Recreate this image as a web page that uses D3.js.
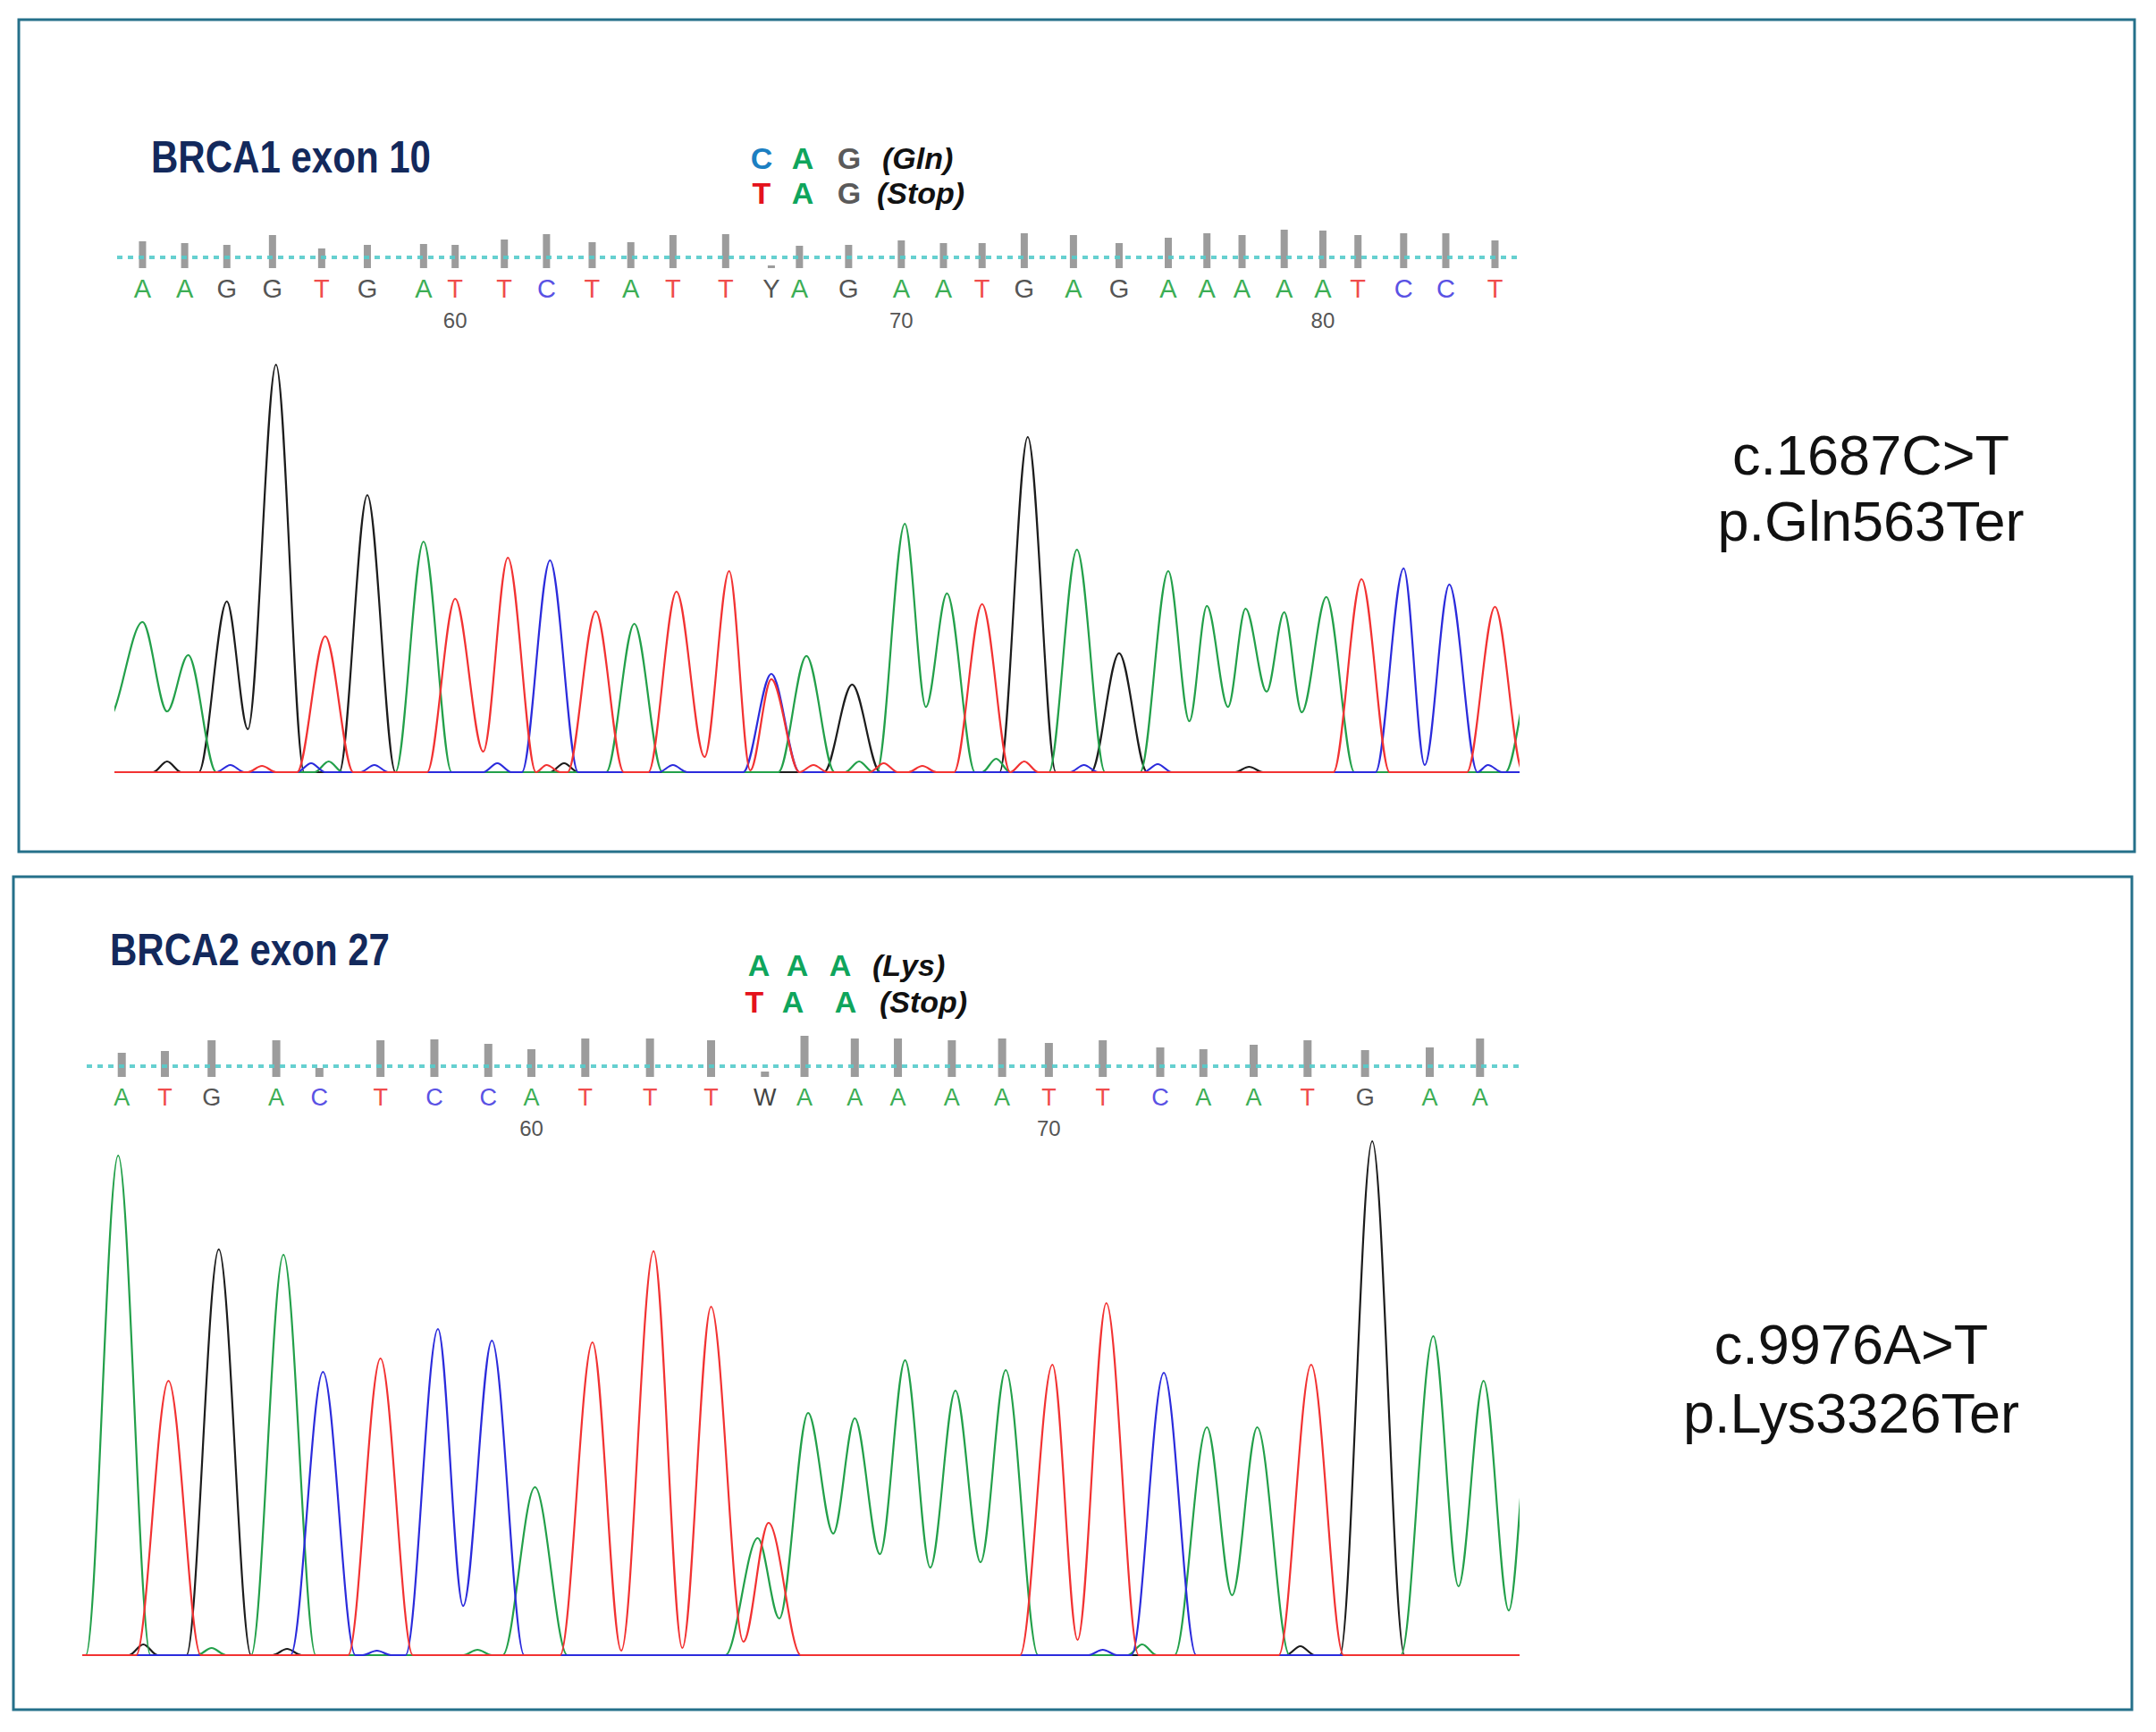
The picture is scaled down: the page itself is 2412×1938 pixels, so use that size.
<!DOCTYPE html>
<html>
<head>
<meta charset="utf-8">
<script src="https://cdn.jsdelivr.net/npm/d3@7/dist/d3.min.js"></script>
<style>
  body { margin: 0; background: #fff; }
  svg { display: block; }
  text { font-family: "Liberation Sans", Arial, sans-serif; }
</style>
</head>
<body>
<svg id="chart" width="2412" height="1938"></svg>
<script>
/***************************************************************
    Data  (scan = sample index along the run, signal = peak height)
****************************************************************/
// BRCA1 exon 10
const brca1Seq = "AAGGTGATTCTATTYAGAATGAGAAAAATCCT".split("");
const brca1Calls = [8, 20, 32, 45, 59, 72, 88, 97, 111, 123, 136, 147, 159, 174, 187, 195, 209, 224, 236, 247,
                    259, 273, 286, 300, 311, 321, 333, 344, 354, 367, 379, 393];
const brca1Quality = [30, 28, 26, 37, 22, 26, 27, 26, 32, 38, 29, 29, 37, 38, 3, 25, 26, 31, 28, 28,
                      39, 37, 28, 34, 39, 37, 43, 42, 37, 39, 39, 31];
const brca1FirstBase = 53;
const brca1Ticks = [60, 70, 80];
// [channel, scan, signal]
const brca1Peaks = [
    ["A", 8, 168], ["A", 21, 131], ["G", 32, 191], ["G", 46, 456], ["T", 60, 152], ["G", 72, 310],
    ["A", 88, 258], ["T", 97, 194], ["T", 112, 240], ["C", 124, 237], ["T", 137, 180], ["A", 148, 166],
    ["T", 160, 202], ["T", 175, 225], ["C", 187, 110], ["T", 187, 104], ["A", 197, 130], ["G", 210, 98],
    ["A", 225, 278], ["A", 237, 200], ["T", 247, 188], ["G", 260, 375], ["A", 274, 249], ["G", 286, 133],
    ["A", 300, 225], ["A", 311, 186], ["A", 322, 183], ["A", 333, 179], ["A", 345, 196], ["T", 355, 216],
    ["C", 367, 228], ["C", 380, 210], ["T", 393, 185], ["A", 404, 120]
];
const brca1Valleys = [
    ["A", 0, 70], ["A", 15, 68], ["A", 231, 73], ["A", 306, 57], ["A", 317, 73], ["A", 328, 90], ["A", 338, 67],
    ["G", 38, 48], ["T", 105, 23], ["T", 168, 17], ["T", 181, 2], ["C", 373, 8]
];
const brca1Noise = [
    ["G", 15, 12], ["C", 33, 8], ["T", 42, 7], ["C", 56, 10], ["A", 61, 12], ["C", 74, 8], ["C", 109, 10],
    ["T", 123, 8], ["G", 128, 10], ["C", 159, 8], ["T", 199, 8], ["A", 212, 12], ["T", 219, 10], ["T", 230, 7],
    ["A", 251, 15], ["T", 259, 12], ["C", 276, 8], ["C", 297, 9], ["G", 323, 6], ["C", 391, 8]
];
const brca1CodonRef = ["C", "A", "G"];
const brca1CodonAlt = ["T", "A", "G"];
const brca1Amino = ["(Gln)", "(Stop)"];
const brca1Variant = ["c.1687C>T", "p.Gln563Ter"];

// BRCA2 exon 27
const brca2Seq = "ATGACTCCATTTWAAAAATTCAATGAA".split("");
const brca2Calls = [11, 23, 36, 54, 66, 83, 98, 113, 125, 140, 158, 175, 190, 201, 215, 227, 242, 256, 269, 284,
                    300, 312, 326, 341, 357, 375, 389];
const brca2Quality = [27, 29, 41, 41, 10, 41, 42, 37, 31, 43, 43, 41, 6, 46, 43, 43, 41, 43, 38, 41,
                      33, 31, 36, 41, 30, 33, 43];
const brca2FirstBase = 52;
const brca2Ticks = [60, 70];
const brca2Peaks = [
    ["A", 10, 559], ["T", 24, 307], ["G", 38, 454], ["A", 56, 448], ["C", 67, 317], ["T", 83, 332],
    ["C", 99, 365], ["C", 114, 352], ["A", 126, 188], ["T", 142, 350], ["T", 159, 452], ["T", 175, 390],
    ["A", 188, 131], ["T", 191, 148], ["A", 202, 271], ["A", 215, 265], ["A", 229, 330], ["A", 243, 296],
    ["A", 257, 319], ["T", 270, 325], ["T", 285, 394], ["C", 301, 316], ["A", 313, 255], ["A", 327, 255],
    ["T", 342, 325], ["G", 359, 575], ["A", 376, 357], ["A", 390, 307], ["A", 404, 330]
];
const brca2Valleys = [
    ["C", 106, 55], ["T", 150, 5], ["T", 167, 8], ["T", 184, 15], ["T", 277, 17],
    ["A", 194, 41], ["A", 209, 136], ["A", 222, 113], ["A", 236, 98], ["A", 250, 104], ["A", 320, 67],
    ["A", 383, 77], ["A", 397, 50]
];
const brca2Noise = [
    ["G", 17, 12], ["A", 36, 8], ["G", 57, 7], ["C", 82, 5], ["A", 110, 6], ["C", 284, 6], ["A", 295, 12], ["G", 339, 10]
];
const brca2CodonRef = ["A", "A", "A"];
const brca2CodonAlt = ["T", "A", "A"];
const brca2Amino = ["(Lys)", "(Stop)"];
const brca2Variant = ["c.9976A>T", "p.Lys3326Ter"];

/***************************************************************
    Styles
****************************************************************/
const traceColor = { A: "#23a04a", C: "#2b2bdc", G: "#1c1c1c", T: "#f23232" };
const callColor = { A: "#3cae55", C: "#5a52e4", G: "#555555", T: "#f04c4c", Y: "#555555", W: "#444444" };
const codonColor = { A: "#0fa55c", C: "#1c7fc2", G: "#5a5a5a", T: "#e4121c" };
const drawOrder = ["G", "A", "C", "T"];

const panels = [
    {
        title: "BRCA1 exon 10", seq: brca1Seq, calls: brca1Calls, quality: brca1Quality,
        firstBase: brca1FirstBase, ticks: brca1Ticks, peaks: brca1Peaks, valleys: brca1Valleys, noise: brca1Noise,
        codons: [brca1CodonRef, brca1CodonAlt], amino: brca1Amino, variant: brca1Variant,
        box: [21, 22, 2367, 931], titlePos: [169, 193],
        codonX: [[852, 898, 950], [852, 898, 950]], aminoX: [987, 981], codonY: [189, 228],
        xRange: [128, 1700], lineX: [131, 1700], yRange: [864, 404], yMax: 460,
        lineY: 288, letterY: 333, tickY: 367, letterSize: 29, barW: 8, peakW: 8,
        variantX: 2093, variantY: [531, 605]
    },
    {
        title: "BRCA2 exon 27", seq: brca2Seq, calls: brca2Calls, quality: brca2Quality,
        firstBase: brca2FirstBase, ticks: brca2Ticks, peaks: brca2Peaks, valleys: brca2Valleys, noise: brca2Noise,
        codons: [brca2CodonRef, brca2CodonAlt], amino: brca2Amino, variant: brca2Variant,
        box: [15, 981, 2370, 932], titlePos: [123, 1080],
        codonX: [[849, 892, 940], [844, 887, 946]], aminoX: [976, 984], codonY: [1092, 1133],
        xRange: [92, 1700], lineX: [97, 1700], yRange: [1852, 1272], yMax: 580,
        lineY: 1193, letterY: 1237, tickY: 1271, letterSize: 27, barW: 9, peakW: 9,
        variantX: 2071, variantY: [1526, 1603]
    }
];

/***************************************************************
    Drawing
****************************************************************/
const svg = d3.select("#chart");
panels.forEach((p, i) => drawPanel(p, i));

function drawPanel(p, idx) {
    const g = svg.append("g");
    const x = d3.scaleLinear().domain([0, 400]).range(p.xRange);
    const y = d3.scaleLinear().domain([0, p.yMax]).range(p.yRange);
    const q = d3.scaleLinear().domain([0, 50]).range([0, 50]);

    // frame
    g.append("rect")
        .attr("x", p.box[0]).attr("y", p.box[1]).attr("width", p.box[2]).attr("height", p.box[3])
        .attr("fill", "none").attr("stroke", "#25708a").attr("stroke-width", 3);

    // title
    g.append("text")
        .attr("x", p.titlePos[0]).attr("y", p.titlePos[1])
        .attr("font-size", 50).attr("font-weight", "bold").attr("fill", "#13295c")
        .attr("textLength", 313).attr("lengthAdjust", "spacingAndGlyphs")
        .text(p.title);

    // codon change
    p.codons.forEach((codon, r) => {
        g.selectAll(null).data(codon).enter().append("text")
            .attr("x", (d, k) => p.codonX[r][k]).attr("y", p.codonY[r])
            .attr("text-anchor", "middle").attr("font-size", 34).attr("font-weight", "bold")
            .attr("fill", d => codonColor[d])
            .text(d => d);
        g.append("text")
            .attr("x", p.aminoX[r]).attr("y", p.codonY[r])
            .attr("font-size", 34).attr("font-weight", "bold").attr("font-style", "italic")
            .attr("fill", "#111")
            .text(p.amino[r]);
    });

    // quality bars
    g.selectAll(null).data(p.calls).enter().append("rect")
        .attr("x", d => x(d) - p.barW / 2)
        .attr("y", (d, k) => p.lineY + 12 - q(p.quality[k]))
        .attr("width", p.barW)
        .attr("height", (d, k) => q(p.quality[k]))
        .attr("fill", "#9c9c9c");

    // dotted baseline of the call track
    g.append("line")
        .attr("x1", p.lineX[0]).attr("x2", p.lineX[1]).attr("y1", p.lineY).attr("y2", p.lineY)
        .attr("stroke", "#56cccb").attr("stroke-width", 4).attr("stroke-dasharray", "6,6")
        .attr("opacity", 0.9);

    // base calls
    g.selectAll(null).data(p.calls).enter().append("text")
        .attr("x", d => x(d)).attr("y", p.letterY)
        .attr("text-anchor", "middle").attr("font-size", p.letterSize)
        .attr("fill", (d, k) => callColor[p.seq[k]])
        .text((d, k) => p.seq[k]);

    // position numbers
    g.selectAll(null).data(p.ticks).enter().append("text")
        .attr("x", d => x(p.calls[d - p.firstBase])).attr("y", p.tickY)
        .attr("text-anchor", "middle").attr("font-size", 24).attr("fill", "#555")
        .text(d => d);

    // traces
    const clipId = "clip" + idx;
    svg.append("clipPath").attr("id", clipId).append("rect")
        .attr("x", p.xRange[0]).attr("y", p.yRange[1] - 20)
        .attr("width", p.xRange[1] - p.xRange[0]).attr("height", p.yRange[0] - p.yRange[1] + 24);

    const line = d3.line()
        .x(d => x(d[0])).y(d => y(d[1]))
        .curve(d3.curveMonotoneX);

    const traces = g.append("g").attr("clip-path", "url(#" + clipId + ")");
    drawOrder.forEach(ch => {
        traces.append("path")
            .datum(channelPoints(ch, p.peaks, p.valleys, p.noise, p.peakW, 4))
            .attr("d", line)
            .attr("fill", "none")
            .attr("stroke", traceColor[ch])
            .attr("stroke-width", 2.2)
            .attr("stroke-linejoin", "round");
    });

    // variant nomenclature
    g.selectAll(null).data(p.variant).enter().append("text")
        .attr("x", p.variantX).attr("y", (d, k) => p.variantY[k])
        .attr("text-anchor", "middle").attr("font-size", 63).attr("fill", "#111")
        .text(d => d);
}

/***************************************************************
    Utilities
****************************************************************/

// peak apexes + valleys of one channel, with the flat baseline between them
function channelPoints(ch, peaks, valleys, noise, w, nw) {
    let items = [];
    peaks.filter(d => d[0] === ch).forEach(d => items.push({ s: d[1], h: d[2], type: "peak", w: w }));
    noise.filter(d => d[0] === ch).forEach(d => items.push({ s: d[1], h: d[2], type: "peak", w: nw }));
    valleys.filter(d => d[0] === ch).forEach(d => items.push({ s: d[1], h: d[2], type: "valley" }));
    items.sort((a, b) => a.s - b.s);

    let pts = [[-10, 0]];
    function add(s, h) {
        let last = pts[pts.length - 1];
        if (s > last[0]) pts.push([s, h]);
        else if (s === last[0] && h > last[1]) last[1] = h;
    }
    items.forEach((it, i) => {
        let prev = items[i - 1], next = items[i + 1];
        if (it.type === "valley") { add(it.s, it.h); return; }
        if (!prev || prev.type !== "valley") add(it.s - it.w, 0);
        add(it.s, it.h);
        if (!next || next.type !== "valley") add(it.s + it.w, 0);
    });
    add(420, 0);
    return pts;
}
</script>
</body>
</html>
